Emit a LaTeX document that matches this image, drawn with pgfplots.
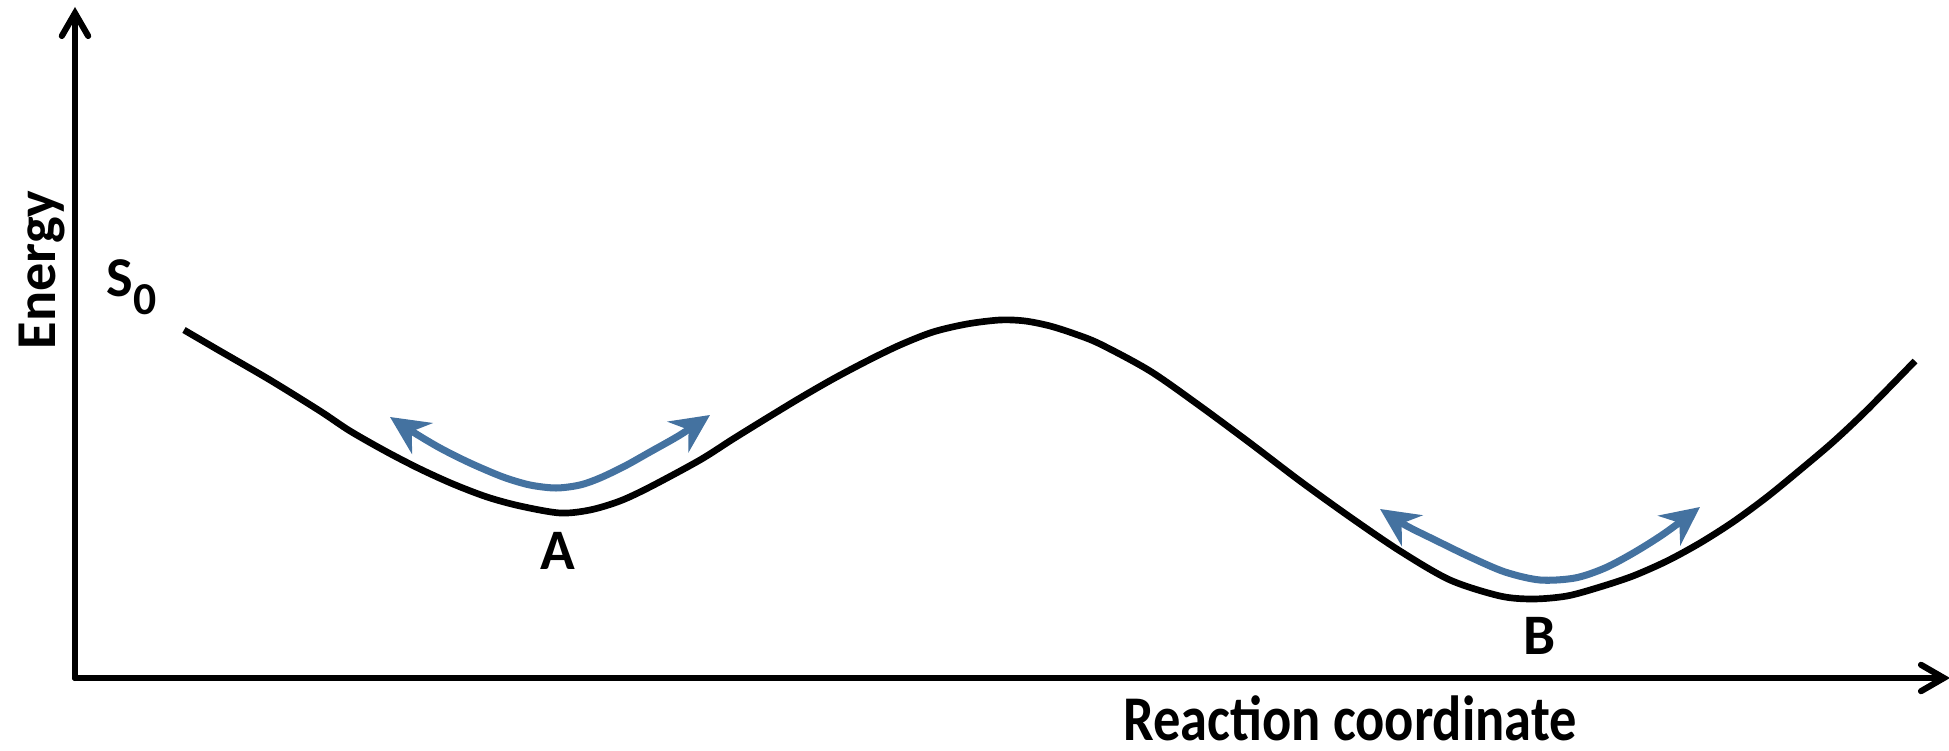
\documentclass[border=0pt]{standalone}
\usepackage{pgfplots}
\pgfplotsset{compat=1.18}
\usepackage{fontspec}
\setmainfont{Carlito}
\usetikzlibrary{arrows.meta}
\definecolor{arrowblue}{RGB}{68,114,160}
\begin{document}
\begin{tikzpicture}
\begin{axis}[
  scale only axis,
  width=18.75cm, height=6.71cm,
  xmin=75, xmax=1950, ymin=73, ymax=744,
  axis lines=left,
  xtick=\empty, ytick=\empty,
  axis line style={line width=1.75pt, line cap=round, -{Straight Barb[length=6.5pt,width=7.5pt,line cap=round]}},
  clip=false,
]
\coordinate (bl) at (axis cs:0,0);
\coordinate (tr) at (axis cs:1949,751);
% energy curve
\addplot[black, line width=1.9pt, smooth] coordinates {
 (184,421) (220,400) (270,371) (320,340) (350,320) (387,299) (420,282)
 (453,267) (487,254) (520,245) (560,238) (590,241) (620,250) (650,264)
 (700,291) (733,312) (767,333) (800,353) (833,372) (867,390) (900,406)
 (933,419) (967,427) (1000,431) (1025,430) (1050,425) (1075,417) (1100,407)
 (1150,380) (1200,345) (1250,308) (1300,270) (1350,234) (1400,200)
 (1450,171) (1500,155) (1533,152) (1567,155) (1600,164) (1633,175)
 (1667,190) (1700,208) (1733,229) (1767,254) (1800,281) (1833,309)
 (1867,341) (1915,390)
};
% vibration arrows
\addplot[arrowblue, line width=2pt, smooth,
  {Stealth[length=11pt,width=10.5pt,inset=3.6pt]}-{Stealth[length=11pt,width=10.5pt,inset=3.6pt]}] coordinates {
 (390,334) (413,319) (440,303) (470,288) (503,274) (530,266) (556,263)
 (580,266) (600,273) (625,285) (650,299) (680,316) (710,336)
};
\addplot[arrowblue, line width=2pt, smooth,
  {Stealth[length=11pt,width=10.5pt,inset=3.6pt]}-{Stealth[length=11pt,width=10.5pt,inset=3.6pt]}] coordinates {
 (1380,242) (1405,226) (1435,211) (1470,194) (1505,179) (1540,171)
 (1575,173) (1605,183) (1635,199) (1665,218) (1700,244)
};
% labels
\node[rotate=90, anchor=base, font=\fontsize{16pt}{16pt}\selectfont\bfseries] at (axis cs:55,481) {Energy};
\node[anchor=base west, inner sep=0pt, font=\fontsize{16pt}{16pt}\selectfont\bfseries] at (axis cs:106,454) {S\raisebox{-5pt}{\fontsize{13pt}{13pt}\selectfont 0}};
\node[anchor=base, inner sep=0pt, font=\fontsize{16.3pt}{16.3pt}\selectfont\bfseries] at (axis cs:558,181) {A};
\node[anchor=base, inner sep=0pt, font=\fontsize{16.3pt}{16.3pt}\selectfont\bfseries] at (axis cs:1540,96) {B};
\node[anchor=base, inner sep=0pt, font=\fontsize{15.5pt}{15.5pt}\selectfont\bfseries] at (axis cs:1350,11) {\scalebox{1}[1.17]{Reaction coordinate}};
\end{axis}
\pgfresetboundingbox
\path[use as bounding box] (bl) rectangle (tr);
\end{tikzpicture}
\end{document}
